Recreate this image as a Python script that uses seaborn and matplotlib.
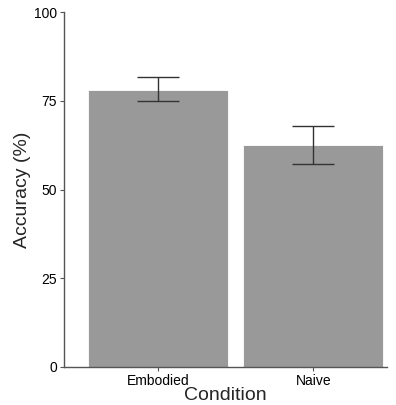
import numpy as np
import pandas as pd
import matplotlib
matplotlib.use('Agg')
import matplotlib.pyplot as plt
import seaborn as sns

# data
conditions = ['Embodied', 'Naive']
accuracy = [78.0, 62.5]
err_low = [74.8, 57.2]
err_high = [81.8, 68.0]

df = pd.DataFrame({'Condition': conditions, 'Accuracy': accuracy})

sns.set_theme(style='white')
plt.rcParams['font.family'] = ['Liberation Sans', 'DejaVu Sans']

fig = plt.figure(figsize=(3.96, 4.05), dpi=100)
ax = fig.add_axes([64 / 396, 38 / 405, 323 / 396, 355 / 405])

sns.barplot(df, x='Condition', y='Accuracy', color='#999999', saturation=1,
            width=0.9, errorbar=None, ax=ax)
for p in ax.patches:
    p.set_edgecolor('white')
    p.set_linewidth(0.6)

acc = np.asarray(accuracy)
yerr = np.vstack([acc - np.asarray(err_low), np.asarray(err_high) - acc])
ax.errorbar(np.arange(len(conditions)), acc, yerr=yerr, fmt='none',
            ecolor='#333333', elinewidth=1.0, capsize=15, capthick=1.0)

ax.set_xlim(-0.605, 1.475)
ax.set_ylim(0, 100)
ax.set_yticks([0, 25, 50, 75, 100])

sns.despine(ax=ax)
for side in ['left', 'bottom']:
    ax.spines[side].set_color('#555555')
    ax.spines[side].set_linewidth(1.0)
ax.tick_params(axis='both', which='both', direction='out', length=3,
               width=0.8, color='#555555', labelsize=10, labelcolor='black',
               pad=2, left=True, bottom=True)

ax.set_xlabel('Condition', fontsize=14, labelpad=-1)
ax.set_ylabel('Accuracy (%)', fontsize=14, labelpad=2)

fig.savefig('out.png', dpi=100)
